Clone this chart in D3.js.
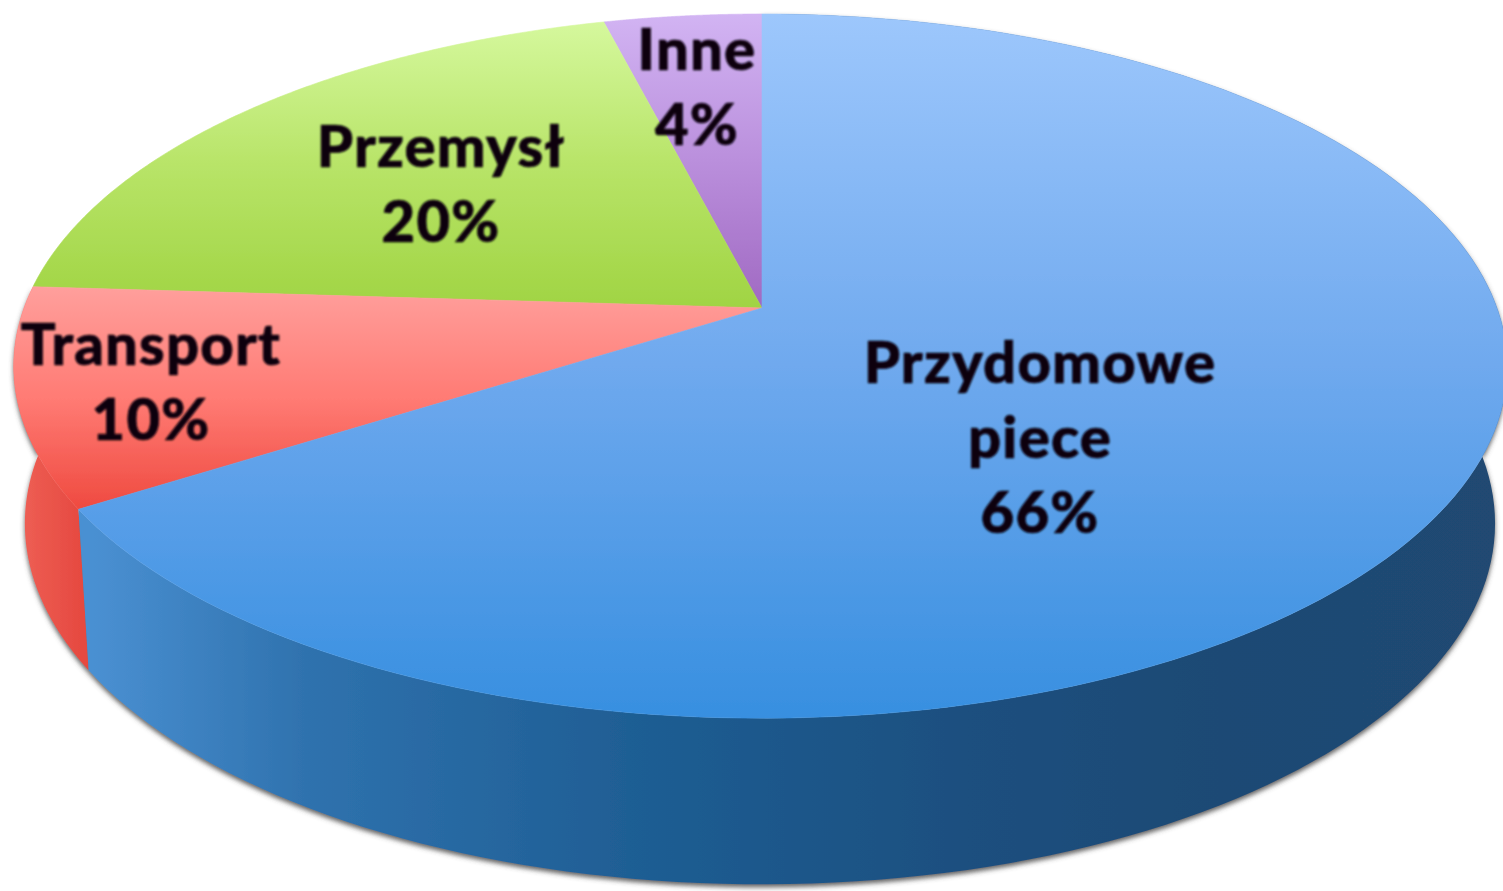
<!DOCTYPE html>
<html><head><meta charset="utf-8">
<script src="https://cdnjs.cloudflare.com/ajax/libs/d3/7.8.5/d3.min.js"></script>
<style>html,body{margin:0;padding:0;background:#fff;overflow:hidden}svg{display:block}</style>
</head><body><svg id="c" width="1503" height="891"></svg>
<script>
const categories = ["Przydomowe piece", "Transport", "Przemysł", "Inne"];
const values = [66, 10, 20, 4];
const percentLabels = ["66%", "10%", "20%", "4%"];
const topColors = [["#9dc7fc","#6fa9ee","#378fe0"],["#ff9f9c","#ff7b74","#ef4a40"],["#d5f89d","#b8e468","#a0d443"],["#d2b4f3","#ba8fdc","#a069c2"]];
const sideColors = [["#4a90d2","#2f72ae","#1f5e94","#1b4f7f","#1e4a74","#204a72"],["#ee5f55","#e4453c"]];
const labelLines = [["Przydomowe","piece","66%"],["Transport","10%"],["Przemysł","20%"],["Inne","4%"]];
const labelCentres = [[1040,383],[151,365],[441,167],[697,70]];

const svg = d3.select("#c");
const defs = svg.append("defs");
const k = -0.165;
const face = (cy,Rl,Rr,S) => a => {
  const u = Math.sin(a), v = -Math.cos(a), w = 1 + k*v;
  return [762 + (u<0?Rl:Rr)*u/w, cy + S*v/w];
};
const topFace = face(308,738,735,342.5), baseFace = face(464,727,723,351);
const pie = d3.pie().value(d=>d).sort(null).startAngle(0).endAngle(2*Math.PI);
const arcs = pie(values);
const line = d3.line();
const sample = (f,a,b) => d3.range(0,161).map(i=>f(d3.scaleLinear().domain([0,160]).range([a,b])(i)));

defs.append("filter").attr("id","shadow").attr("x","-5%").attr("y","-5%").attr("width","110%").attr("height","112%")
  .append("feDropShadow").attr("dx",0).attr("dy",3).attr("stdDeviation",2.5).attr("flood-color","#444").attr("flood-opacity",0.85);
defs.append("filter").attr("id","soft").append("feGaussianBlur").attr("stdDeviation",0.9);
defs.append("filter").attr("id","softer").append("feGaussianBlur").attr("stdDeviation",0.7);

topColors.forEach((c,i)=>{
  const g = defs.append("linearGradient").attr("id","t"+i).attr("x1",0).attr("y1",0).attr("x2",0).attr("y2",1);
  c.forEach((col,j)=>g.append("stop").attr("offset",j/(c.length-1)).attr("stop-color",col));
});
const sideExtent = [[93,1503],[20,95]];
sideColors.forEach((c,i)=>{
  const g = defs.append("linearGradient").attr("id","s"+i).attr("gradientUnits","userSpaceOnUse")
    .attr("x1",sideExtent[i][0]).attr("x2",sideExtent[i][1]).attr("y1",0).attr("y2",0);
  const stops = i===0 ? [0,0.15,0.38,0.62,0.8,1] : [0,1];
  c.forEach((col,j)=>g.append("stop").attr("offset",stops[j]).attr("stop-color",col));
});

const sideG = svg.append("g").attr("filter","url(#shadow)");
sideG.selectAll("path").data(arcs.slice(0,2).reverse()).join("path")
  .attr("d",d=>line(sample(topFace,d.startAngle,d.endAngle).concat(sample(baseFace,d.endAngle,d.startAngle)))+"Z")
  .attr("fill",d=>`url(#s${d.index})`);

const topG = svg.append("g").attr("filter","url(#softer)");
topG.selectAll("path").data(arcs.slice().reverse()).join("path")
  .attr("d",d=>line([[762,308]].concat(sample(topFace,d.startAngle,d.endAngle)))+"Z")
  .attr("fill",d=>`url(#t${d.index})`)
  .attr("stroke",d=>`url(#t${d.index})`).attr("stroke-width",0.6);

const textG = svg.append("g").attr("filter","url(#soft)")
  .attr("font-family","Lato, 'Open Sans', sans-serif").attr("font-weight",900).attr("font-size",58)
  .attr("letter-spacing",1.2)
  .attr("fill","#0a0510").attr("stroke","#0a0510").attr("stroke-width",0.7).attr("text-anchor","middle");
labelLines.forEach((lines,i)=>{
  textG.append("text").selectAll("tspan").data(lines).join("tspan")
    .attr("x",labelCentres[i][0]).attr("y",(d,j)=>labelCentres[i][1]+j*75).text(d=>d);
});
</script></body></html>
